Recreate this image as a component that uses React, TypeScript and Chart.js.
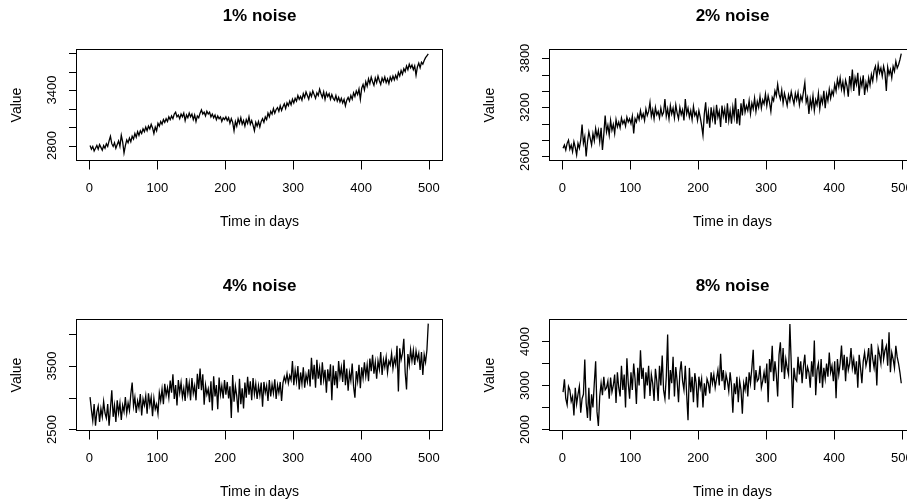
import React, { useEffect, useRef } from "react";
import { Chart, registerables } from "chart.js";

Chart.register(...registerables);

// Day index of each sampled observation (every second day, 1..499)
const DAYS: number[] = Array.from({ length: 250 }, (_, i) => 1 + 2 * i);

const X_TICKS = [0, 100, 200, 300, 400, 500];

const NOISE_1 = [
  2800, 2760, 2790, 2740, 2770, 2800, 2760, 2810, 2780, 2750, 2800, 2770, 2820, 2790, 2850, 2900, 2820, 2790, 2830, 2770, 2810, 2850, 2790, 2910, 2840,
  2720, 2800, 2860, 2830, 2880, 2840, 2900, 2870, 2930, 2890, 2950, 2910, 2960, 2930, 2980, 2950, 3000, 2960, 3010, 2980, 3030, 2990, 2930, 3000, 2960,
  3040, 3010, 3060, 3030, 3080, 3050, 3090, 3060, 3110, 3080, 3120, 3090, 3140, 3160, 3110, 3130, 3090, 3140, 3110, 3150, 3070, 3130, 3100, 3150, 3110,
  3140, 3080, 3130, 3060, 3120, 3100, 3150, 3185, 3140, 3160, 3120, 3170, 3140, 3160, 3110, 3140, 3100, 3130, 3080, 3120, 3090, 3110, 3060, 3100, 3080,
  3110, 3070, 3100, 3040, 3090, 3050, 2960, 3060, 3010, 3090, 3040, 3100, 3030, 3070, 3010, 3080, 3040, 3110, 3030, 3070, 3020, 2960, 3050, 3010, 3060,
  3000, 3060, 3090, 3050, 3110, 3080, 3150, 3110, 3170, 3140, 3200, 3150, 3190, 3210, 3170, 3230, 3180, 3220, 3250, 3200, 3260, 3230, 3280, 3240, 3300,
  3260, 3310, 3280, 3340, 3300, 3330, 3290, 3360, 3320, 3380, 3340, 3300, 3370, 3330, 3390, 3350, 3310, 3370, 3340, 3410, 3360, 3320, 3380, 3300, 3370,
  3330, 3360, 3300, 3350, 3310, 3290, 3340, 3280, 3320, 3270, 3310, 3260, 3300, 3230, 3290, 3320, 3280, 3340, 3300, 3370, 3330, 3390, 3350, 3410, 3300,
  3420, 3460, 3400, 3490, 3440, 3520, 3470, 3540, 3490, 3450, 3530, 3480, 3550, 3500, 3460, 3530, 3490, 3540, 3480, 3520, 3470, 3540, 3500, 3550, 3510,
  3560, 3520, 3590, 3550, 3610, 3570, 3630, 3600, 3660, 3620, 3680, 3640, 3670, 3620, 3660, 3560, 3650, 3690, 3640, 3700, 3680, 3720, 3750, 3770, 3790,
];

const NOISE_2 = [
  2700, 2740, 2680, 2760, 2800, 2690, 2740, 2660, 2780, 2710, 2620, 2760, 2700, 2800, 2990, 2760, 2840, 2600, 2780, 2900, 2820, 2740, 2880, 2790, 2940,
  2840, 2920, 2780, 2950, 2680, 2870, 3100, 2900, 2980, 2860, 3040, 2920, 2990, 2880, 3050, 2960, 3020, 2950, 3070, 3000, 3040, 2970, 3080, 3020, 3060,
  3000, 3090, 2880, 3060, 3020, 3110, 3050, 3160, 3070, 3120, 3040, 3180, 3100, 3150, 3260, 3090, 3170, 3060, 3200, 3110, 3150, 3070, 3190, 3100, 3140,
  3300, 3090, 3180, 3060, 3220, 3120, 3190, 3070, 3230, 3130, 3060, 3200, 3110, 3170, 3040, 3300, 3120, 3190, 3080, 3160, 3050, 3210, 3100, 3140, 3040,
  3160, 3080, 2980, 2860, 3120, 3260, 3000, 3140, 2950, 3200, 3060, 3170, 2990, 3230, 3080, 3150, 2960, 3220, 3090, 3180, 3010, 3250, 3040, 3160, 3000,
  3200, 3080, 3310, 3000, 3180, 2980, 3250, 3100, 3300, 3140, 3220, 3160, 3280, 3120, 3250, 3180, 3310, 3150, 3270, 3200, 3330, 3190, 3290, 3240, 3360,
  3220, 3340, 3260, 3150, 3320, 3280, 3400, 3340, 3480, 3360, 3300, 3410, 3250, 3370, 3300, 3220, 3350, 3280, 3390, 3310, 3240, 3370, 3290, 3380, 3230,
  3340, 3280, 3390, 3500, 3260, 3320, 3120, 3300, 3200, 3340, 3160, 3290, 3230, 3370, 3180, 3320, 3250, 3400, 3190, 3360, 3280, 3420, 3310, 3400, 3350,
  3480, 3400, 3540, 3450, 3560, 3420, 3510, 3380, 3530, 3460, 3330, 3580, 3450, 3660, 3400, 3560, 3480, 3620, 3340, 3540, 3460, 3590, 3350, 3500, 3420,
  3560, 3470, 3600, 3520, 3650, 3700, 3560, 3720, 3620, 3680, 3580, 3700, 3620, 3400, 3690, 3600, 3660, 3560, 3700, 3640, 3760, 3680, 3720, 3780, 3855,
];

const NOISE_4 = [
  3010, 2810, 2640, 2900, 2560, 2780, 2870, 2620, 2830, 2700, 2940, 2760, 2680, 2900, 2560, 2830, 3120, 2700, 2880, 2620, 2960, 2760, 2920, 2650, 2880,
  2780, 3010, 2760, 2920, 2800, 3060, 3240, 2870, 3010, 2760, 2950, 2840, 3060, 2720, 2980, 2880, 3030, 2750, 3070, 2880, 3010, 2710, 2990, 2820, 2900,
  2750, 3080, 2950, 3140, 2900, 3220, 3040, 3160, 3000, 3270, 3080, 3370, 2980, 3200, 2880, 3280, 3080, 3240, 3010, 3150, 2950, 3310, 3070, 3230, 2960,
  3310, 3070, 3190, 2960, 3380, 3140, 3460, 3120, 3370, 2890, 3200, 3050, 3140, 2930, 3260, 2800, 3340, 3020, 3200, 2820, 3320, 3050, 3190, 2990, 3280,
  3050, 3250, 2990, 3180, 2680, 3360, 2940, 3180, 3030, 2770, 3300, 2900, 3150, 2830, 3240, 3000, 3330, 3050, 3260, 2960, 3310, 3060, 3220, 2980, 3190,
  3040, 3240, 2860, 3250, 3080, 3190, 2950, 3280, 3020, 3210, 3070, 3290, 2980, 3200, 3080, 3250, 2950, 3230, 3330, 3250, 3380, 3230, 3350, 3280, 3580,
  3200, 3430, 3260, 3500, 3130, 3400, 3220, 3480, 3160, 3360, 3250, 3450, 3180, 3630, 3290, 3520, 3160, 3600, 3300, 3470, 3200, 3560, 3280, 3440, 3080,
  3450, 3260, 3530, 2960, 3510, 3200, 3420, 3150, 3580, 3330, 3480, 3250, 3600, 3200, 3460, 3110, 3400, 3270, 3540, 3180, 3000, 3420, 3260, 3520, 3150,
  3480, 3310, 3560, 3340, 3520, 3260, 3620, 3420, 3680, 3380, 3560, 3300, 3580, 3450, 3720, 3360, 3600, 3480, 3640, 3400, 3580, 3520, 3700, 3460, 3620,
  3520, 3820, 3100, 3780, 3600, 3700, 3930, 3400, 3130, 3690, 3520, 3760, 3580, 3750, 3520, 3740, 3600, 3700, 3440, 3720, 3360, 3680, 3560, 3750, 4170,
];

const NOISE_8 = [
  2850, 3140, 2700, 2560, 2980, 2900, 2640, 2750, 2320, 2950, 2580, 2800, 2980, 2380, 2700, 2800, 3590, 2600, 2260, 2950, 2200, 2800, 2500, 3050, 3550,
  2400, 2080, 2750, 3050, 2780, 3200, 2900, 2950, 3100, 2700, 3180, 2850, 3000, 3250, 2600, 3300, 2950, 2750, 3450, 2900, 3250, 2500, 3620, 3050, 2700,
  3300, 2900, 3500, 3150, 2580, 3400, 3000, 3800, 3150, 3400, 2700, 3300, 3000, 3450, 2760, 3250, 3050, 2650, 3380, 3100, 2650, 3450, 3000, 3680, 2900,
  2700, 3200, 4160, 2680, 3350, 3050, 3650, 2750, 3420, 3100, 2620, 3300, 3550, 3100, 2900, 3450, 2800, 2210, 3400, 2850, 3200, 2620, 3280, 3050, 2500,
  3200, 2950, 3150, 2500, 3050, 2770, 3150, 3050, 2820, 3300, 3050, 3250, 2950, 3150, 3350, 3000, 3720, 3100, 3350, 2900, 3250, 3100, 2870, 3300, 3000,
  2380, 3050, 2800, 3200, 2620, 3100, 2900, 2360, 3050, 2900, 3200, 2750, 3300, 3050, 3400, 3810, 2900, 3350, 3100, 3150, 3450, 2950, 3100, 3300, 3050,
  3500, 2620, 3600, 3300, 3900, 3100, 3550, 3250, 2750, 3700, 3980, 3300, 3850, 3150, 3600, 3400, 3250, 4400, 3500, 2490, 3400, 3150, 3100, 3650, 3250,
  3550, 3050, 3450, 3700, 3150, 3420, 3300, 2950, 3550, 3200, 4020, 2780, 3350, 3500, 3050, 3600, 2950, 3400, 3150, 3500, 3200, 3750, 3300, 3450, 3100,
  3550, 2710, 3600, 3250, 3500, 3910, 3350, 3700, 3100, 3650, 3350, 3500, 3850, 3400, 3600, 3250, 3550, 2950, 3700, 3400, 3050, 3550, 3750, 3450, 3600,
  3850, 3300, 3950, 3600, 3400, 3700, 3000, 3850, 3700, 3500, 4050, 3600, 3800, 3900, 3450, 4210, 3300, 3750, 3600, 3400, 3900, 3650, 3500, 3300, 3050,
];

const TITLES = ["1% noise", "2% noise", "4% noise", "8% noise"];
const X_TITLE = "Time in days";
const Y_TITLE = "Value";

const P1_Y_TICKS = [2800, 3000, 3200, 3400, 3600, 3800];
const P1_Y_LABELS = [2800, 3400];
const P2_Y_TICKS = [2600, 2800, 3000, 3200, 3400, 3600, 3800];
const P2_Y_LABELS = [2600, 3200, 3800];
const P3_Y_TICKS = [2500, 3000, 3500, 4000];
const P3_Y_LABELS = [2500, 3500];
const P4_Y_TICKS = [2000, 2500, 3000, 3500, 4000];
const P4_Y_LABELS = [2000, 3000, 4000];

const X_LIMITS = [-18.96, 519.96];
const P1_Y_LIMITS = [2638, 3838];
const P2_Y_LIMITS = [2551, 3905];
const P3_Y_LIMITS = [2484, 4235];
const P4_Y_LIMITS = [1977, 4500];

const FONT = '"Liberation Sans", Arial, Helvetica, sans-serif';

const CANVAS_W = 473;
const CANVAS_H = 270;

type PanelProps = {
  title: string;
  values: number[];
  yLimits: number[];
  yTicks: number[];
  yLabels: number[];
  left: number;
  top: number;
};

function Panel({ title, values, yLimits, yTicks, yLabels, left, top }: PanelProps) {
  const ref = useRef<HTMLCanvasElement | null>(null);

  useEffect(() => {
    const canvas = ref.current;
    if (!canvas) return;

    const rAxes = {
      id: "rAxes",
      afterDraw(chart: any) {
        const { ctx, chartArea: a, scales } = chart;
        const xs = scales.x;
        const ys = scales.y;
        ctx.save();
        ctx.strokeStyle = "#000";
        ctx.lineWidth = 1;
        ctx.strokeRect(a.left, a.top, a.right - a.left, a.bottom - a.top);

        ctx.beginPath();
        for (const v of yTicks) {
          const p = Math.round(ys.getPixelForValue(v)) + 0.5;
          ctx.moveTo(a.left, p);
          ctx.lineTo(a.left - 7.5, p);
        }
        for (const v of X_TICKS) {
          const p = Math.round(xs.getPixelForValue(v)) + 0.5;
          ctx.moveTo(p, a.bottom);
          ctx.lineTo(p, a.bottom + 9);
        }
        ctx.stroke();

        ctx.fillStyle = "#000";
        ctx.font = `13px ${FONT}`;
        ctx.textAlign = "center";
        ctx.textBaseline = "middle";
        for (const v of X_TICKS) {
          ctx.fillText(String(v), xs.getPixelForValue(v), a.bottom + 27.5);
        }
        for (const v of yLabels) {
          ctx.save();
          ctx.translate(a.left - 24, ys.getPixelForValue(v));
          ctx.rotate(-Math.PI / 2);
          ctx.fillText(String(v), 0, 0);
          ctx.restore();
        }

        const cx = (a.left + a.right) / 2;
        const cy = (a.top + a.bottom) / 2;
        ctx.font = `14px ${FONT}`;
        ctx.fillText(X_TITLE, cx, a.bottom + 61.5);
        ctx.save();
        ctx.translate(17.5, cy);
        ctx.rotate(-Math.PI / 2);
        ctx.fillText(Y_TITLE, 0, 0);
        ctx.restore();

        ctx.font = `bold 17px ${FONT}`;
        ctx.fillText(title, cx, 16);
        ctx.restore();
      },
    };

    const chart = new Chart(canvas, {
      type: "line",
      data: {
        datasets: [
          {
            data: DAYS.map((d, i) => ({ x: d, y: values[i] })),
            borderColor: "#000",
            borderWidth: 1.3,
            pointRadius: 0,
            fill: false,
            tension: 0,
          },
        ],
      },
      options: {
        responsive: false,
        animation: false,
        events: [],
        layout: { padding: { left: 76.5, top: 49.5, right: CANVAS_W - 442.5, bottom: CANVAS_H - 160.5 } },
        plugins: { legend: { display: false }, tooltip: { enabled: false }, title: { display: false } },
        scales: {
          x: { type: "linear", display: false, bounds: "data", min: X_LIMITS[0], max: X_LIMITS[1] },
          y: { type: "linear", display: false, bounds: "data", min: yLimits[0], max: yLimits[1] },
        },
      },
      plugins: [rAxes],
    } as any);

    return () => chart.destroy();
  }, [title, values, yLimits, yTicks, yLabels]);

  return (
    <canvas
      ref={ref}
      width={CANVAS_W}
      height={CANVAS_H}
      style={{ position: "absolute", left, top, width: CANVAS_W, height: CANVAS_H, display: "block" }}
    />
  );
}

export default function App() {
  return (
    <div
      style={{
        position: "absolute",
        left: 0,
        top: 0,
        width: 907,
        height: 502,
        overflow: "hidden",
        background: "#fff",
      }}
    >
      <Panel title={TITLES[0]} values={NOISE_1} yLimits={P1_Y_LIMITS} yTicks={P1_Y_TICKS} yLabels={P1_Y_LABELS} left={0} top={0} />
      <Panel title={TITLES[1]} values={NOISE_2} yLimits={P2_Y_LIMITS} yTicks={P2_Y_TICKS} yLabels={P2_Y_LABELS} left={473} top={0} />
      <Panel title={TITLES[2]} values={NOISE_4} yLimits={P3_Y_LIMITS} yTicks={P3_Y_TICKS} yLabels={P3_Y_LABELS} left={0} top={270} />
      <Panel title={TITLES[3]} values={NOISE_8} yLimits={P4_Y_LIMITS} yTicks={P4_Y_TICKS} yLabels={P4_Y_LABELS} left={473} top={270} />
    </div>
  );
}
